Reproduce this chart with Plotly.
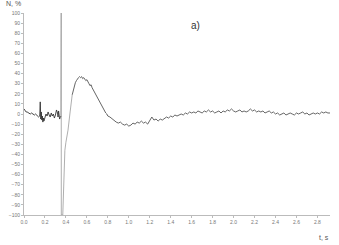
import plotly.graph_objects as go

t = [0.00, 0.01, 0.02, 0.03, 0.04, 0.05, 0.06, 0.07, 0.08, 0.09, 0.10, 0.11, 0.12, 0.13, 0.14, 0.15,
     0.155, 0.16, 0.165, 0.17, 0.175, 0.18, 0.185, 0.19, 0.20, 0.21, 0.22, 0.23, 0.24, 0.25, 0.26, 0.27,
     0.28, 0.29, 0.30, 0.31, 0.32, 0.325, 0.33, 0.34, 0.35, 0.352, 0.355, 0.356, 0.37,
     0.38, 0.39, 0.40, 0.42, 0.44, 0.45, 0.46, 0.47, 0.48, 0.49, 0.50, 0.51, 0.52, 0.53, 0.54, 0.55,
     0.56, 0.57, 0.58, 0.59, 0.60, 0.61, 0.62, 0.63, 0.64, 0.65, 0.66, 0.67, 0.68, 0.69, 0.70, 0.71,
     0.72, 0.73, 0.74, 0.75, 0.76, 0.77, 0.78, 0.79, 0.80, 0.82, 0.84, 0.86, 0.88, 0.90, 0.92, 0.94,
     0.96, 0.98, 1.00, 1.02, 1.04, 1.06, 1.08, 1.10, 1.12, 1.14, 1.16, 1.18, 1.20, 1.22, 1.24, 1.26,
     1.28, 1.30, 1.32, 1.34, 1.36, 1.38, 1.40, 1.42, 1.44, 1.46, 1.48, 1.50, 1.52, 1.54, 1.56, 1.58,
     1.60, 1.62, 1.64, 1.66, 1.68, 1.70, 1.72, 1.74, 1.76, 1.78, 1.80, 1.82, 1.84, 1.86, 1.88, 1.90,
     1.92, 1.94, 1.96, 1.98, 2.00, 2.02, 2.04, 2.06, 2.08, 2.10, 2.12, 2.14, 2.16, 2.18, 2.20, 2.22,
     2.24, 2.26, 2.28, 2.30, 2.32, 2.34, 2.36, 2.38, 2.40, 2.42, 2.44, 2.46, 2.48, 2.50, 2.52, 2.54,
     2.56, 2.58, 2.60, 2.62, 2.64, 2.66, 2.68, 2.70, 2.72, 2.74, 2.76, 2.78, 2.80, 2.82, 2.84, 2.86,
     2.88, 2.90, 2.92]

N = [5, 3, 2, 2, 1, 1, 0, 1, 0, 0, -1, 0, -1, -2, -3, -2,
     12, -5, 2, -6, -2, -8, -4, -7, -3, 0, -2, 2, -1, -3, 1, -2,
     0, -4, -1, 4, 1, -3, 3, -5, -2, -3, 100, -100, -100,
     -60, -36, -28, -16, 2, 14, 19, 24, 28, 31, 33, 35, 36, 37, 36, 37,
     35, 36, 34, 33, 34, 31, 30, 28, 29, 26, 24, 22, 21, 18, 17, 15,
     13, 11, 8, 6, 4, 2, 1, 0, -2, -3, -5, -6, -8, -9, -8, -10,
     -11, -10, -12, -11, -9, -10, -8, -9, -7, -9, -8, -10, -7, -3, -6, -5,
     -7, -5, -6, -4, -3, -4, -2, -3, -1, -2, -1, 0, -1, 1, 0, 2,
     1, 2, 1, 3, 2, 1, 3, 2, 4, 2, 3, 1, 2, 3, 1, 3,
     2, 4, 3, 5, 3, 2, 3, 4, 2, 3, 2, 3, 5, 3, 4, 2,
     3, 2, 3, 1, 2, 3, 1, 2, 0, 1, -1, 0, 1, -1, 0, 1,
     0, -1, 1, 0, 1, 2, 0, 1, -1, 0, 1, 0, 1, 0, 2, 1,
     2, 1, 1]

x_ticks = [0.0, 0.2, 0.4, 0.6, 0.8, 1.0, 1.2, 1.4, 1.6, 1.8, 2.0, 2.2, 2.4, 2.6, 2.8]
x_tick_labels = ["0.0", "0.2", "0.4", "0.6", "0.8", "1.0", "1.2", "1.4", "1.6", "1.8",
                 "2.0", "2.2", "2.4", "2.6", "2.8"]
y_ticks = list(range(-100, 101, 10))

# segment boundaries by index (pre-spike, spike/rise, rest)
i_spike = t.index(0.352)
i_rise = t.index(0.46)

fig = go.Figure()
fig.add_trace(go.Scatter(x=t[:i_spike + 1], y=N[:i_spike + 1], mode="lines",
                         line=dict(color="#333333", width=0.9), showlegend=False))
fig.add_trace(go.Scatter(x=t[i_spike:i_rise + 1], y=N[i_spike:i_rise + 1], mode="lines",
                         line=dict(color="#999999", width=0.8), showlegend=False))
fig.add_trace(go.Scatter(x=t[i_rise:], y=N[i_rise:], mode="lines",
                         line=dict(color="#555555", width=0.9), showlegend=False))

font = "Liberation Sans, Arial, sans-serif"
fig.update_layout(
    width=339, height=245,
    margin=dict(l=22, r=9, t=13, b=30),
    paper_bgcolor="white", plot_bgcolor="white",
    font=dict(family=font, color="#666666"),
    xaxis=dict(range=[0, 2.92], tickvals=x_ticks, ticktext=x_tick_labels,
               showgrid=False, zeroline=False, showline=True, linecolor="#bbbbbb",
               linewidth=1, ticks="outside", ticklen=2, tickcolor="#bbbbbb",
               tickfont=dict(size=5, color="#777777")),
    yaxis=dict(range=[-100, 100], tickvals=y_ticks,
               showgrid=False, zeroline=False, showline=True, linecolor="#bbbbbb",
               linewidth=1, ticks="outside", ticklen=2, tickcolor="#bbbbbb",
               tickfont=dict(size=5, color="#777777")),
    annotations=[
        dict(text="N, %", xref="paper", yref="paper", x=-0.065, y=1.02,
             xanchor="left", yanchor="bottom", showarrow=False,
             font=dict(size=7, color="#555555")),
        dict(text="a)", xref="paper", yref="paper", x=0.56, y=0.94,
             xanchor="center", yanchor="middle", showarrow=False,
             font=dict(size=10, color="#333333")),
        dict(text="t, s", xref="paper", yref="paper", x=0.98, y=-0.085,
             xanchor="center", yanchor="top", showarrow=False,
             font=dict(size=7, color="#555555")),
    ],
)

fig.write_html("out.html")
